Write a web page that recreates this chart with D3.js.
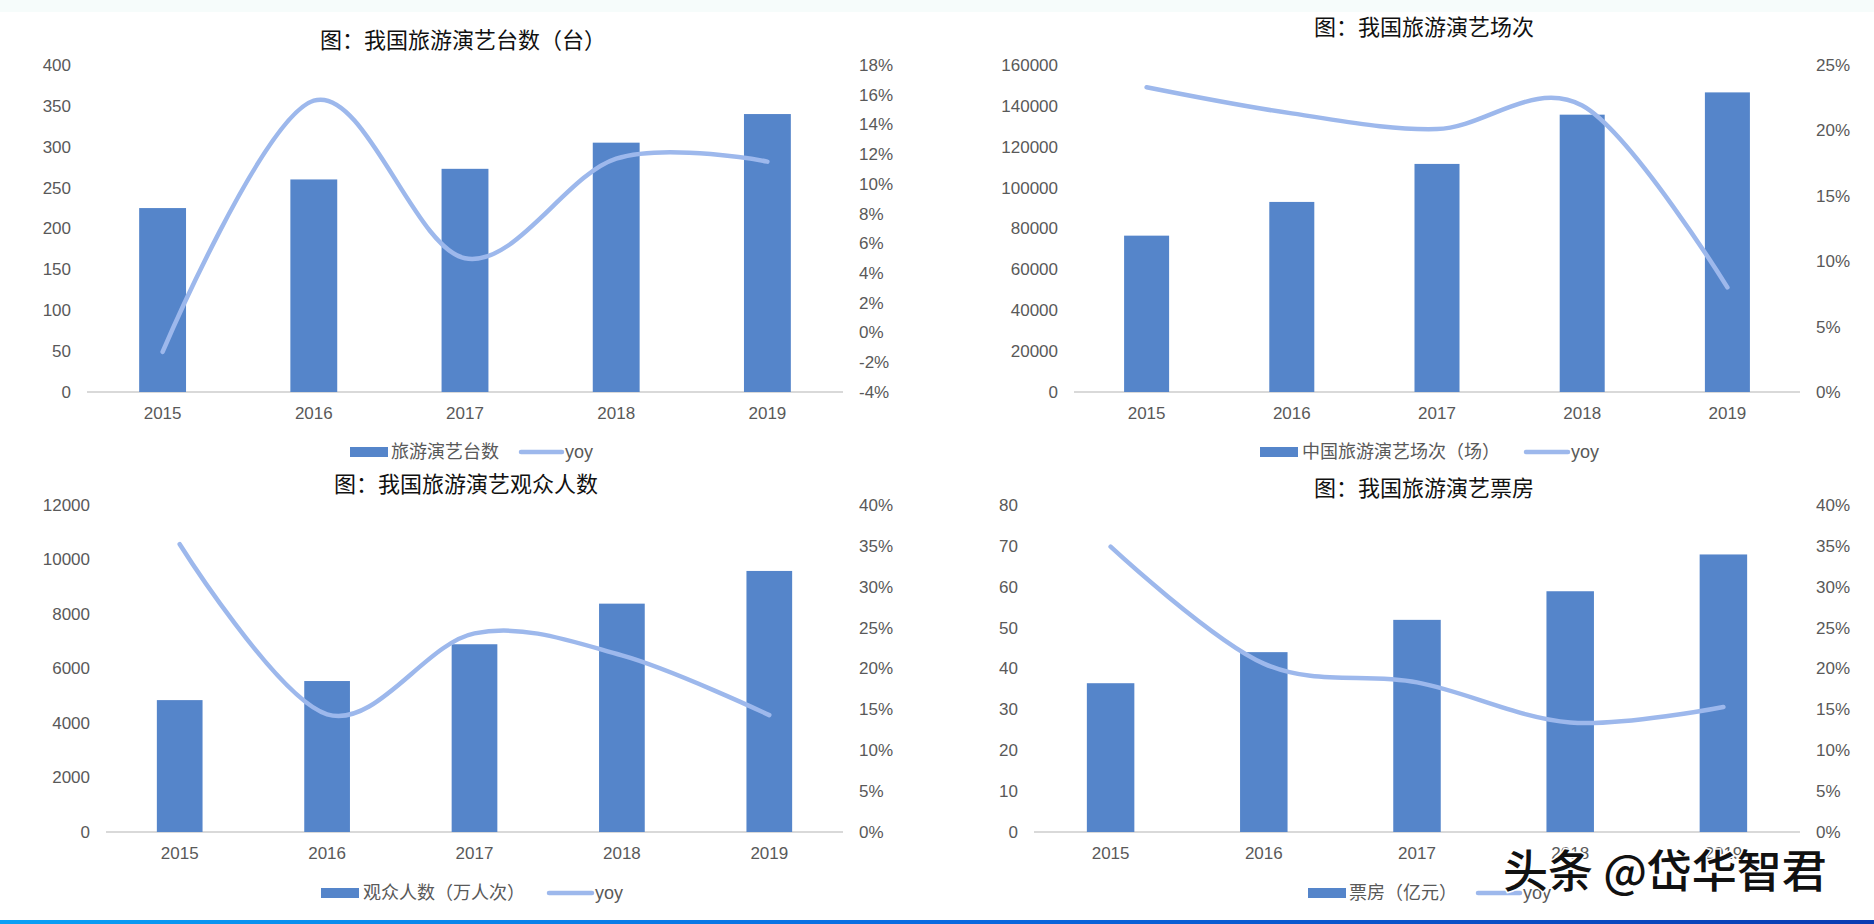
<!DOCTYPE html>
<html>
<head>
<meta charset="utf-8">
<script src="https://cdn.jsdelivr.net/npm/d3@7"></script>
<style>
  html, body { margin: 0; padding: 0; background: #ffffff; }
  svg { display: block; }
</style>
</head>
<body>
<svg id="chart" width="1874" height="924"></svg>
<script>
// ---------------- data ----------------
const years = ["2015", "2016", "2017", "2018", "2019"];

const units = [225, 260, 273, 305, 340];
const unitsYoy = [-1.3, 15.6, 5.0, 11.7, 11.5];
const unitsLeftTicks = [0, 50, 100, 150, 200, 250, 300, 350, 400];
const unitsRightTicks = [-4, -2, 0, 2, 4, 6, 8, 10, 12, 14, 16, 18];

const shows = [76500, 93000, 111600, 135700, 146600];
const showsYoy = [23.3, 21.3, 20.1, 21.9, 8.0];
const showsLeftTicks = [0, 20000, 40000, 60000, 80000, 100000, 120000, 140000, 160000];
const showsRightTicks = [0, 5, 10, 15, 20, 25];

const audience = [4840, 5540, 6890, 8380, 9580];
const audienceYoy = [35.2, 14.4, 24.3, 21.6, 14.3];
const audienceLeftTicks = [0, 2000, 4000, 6000, 8000, 10000, 12000];
const audienceRightTicks = [0, 5, 10, 15, 20, 25, 30, 35, 40];

const boxOffice = [36.4, 44.0, 51.9, 58.9, 67.9];
const boxOfficeYoy = [34.9, 20.6, 18.3, 13.4, 15.3];
const boxOfficeLeftTicks = [0, 10, 20, 30, 40, 50, 60, 70, 80];
const boxOfficeRightTicks = [0, 5, 10, 15, 20, 25, 30, 35, 40];

const titles = ["图：我国旅游演艺台数（台）", "图：我国旅游演艺场次", "图：我国旅游演艺观众人数", "图：我国旅游演艺票房"];
const barNames = ["旅游演艺台数", "中国旅游演艺场次（场）", "观众人数（万人次）", "票房（亿元）"];
const lineName = "yoy";
const watermark = "头条 @岱华智君";

// ---------------- style ----------------
const BAR = "#5585ca";
const LINE = "#9db8ec";
const TICK = "#595959";
const CJK = "'Noto Sans CJK SC', 'Noto Sans', sans-serif";
const LAT = "'Liberation Sans', Arial, sans-serif";

const svg = d3.select("#chart");

// faint top band & bottom gradient bar
svg.append("rect").attr("x", 0).attr("y", 0).attr("width", 1874).attr("height", 12).attr("fill", "#f6fcfb");
const defs = svg.append("defs");
const grad = defs.append("linearGradient").attr("id", "bottomGrad").attr("x1", "0%").attr("x2", "100%");
grad.append("stop").attr("offset", "0%").attr("stop-color", "#0aa0f5");
grad.append("stop").attr("offset", "50%").attr("stop-color", "#0a6ae0");
grad.append("stop").attr("offset", "100%").attr("stop-color", "#0a3cb2");
svg.append("rect").attr("x", 0).attr("y", 920).attr("width", 1874).attr("height", 4).attr("fill", "url(#bottomGrad)");

// ---------------- chart layouts ----------------
const charts = [
  { title: titles[0], tx: 463, ty: 40, x0: 87, x1: 843, y0: 65, y1: 392,
    bars: units, yoy: unitsYoy, lt: unitsLeftTicks, rt: unitsRightTicks,
    barName: barNames[0], leg: { y: 452, rect: 350, text: 391, line: 521, lineEnd: 562 } },
  { title: titles[1], tx: 1424, ty: 27, x0: 1074, x1: 1800, y0: 65, y1: 392,
    bars: shows, yoy: showsYoy, lt: showsLeftTicks, rt: showsRightTicks,
    barName: barNames[1], leg: { y: 452, rect: 1260, text: 1302, line: 1526, lineEnd: 1568 } },
  { title: titles[2], tx: 466, ty: 484, x0: 106, x1: 843, y0: 505, y1: 832,
    bars: audience, yoy: audienceYoy, lt: audienceLeftTicks, rt: audienceRightTicks,
    barName: barNames[2], leg: { y: 893, rect: 321, text: 363, line: 549, lineEnd: 592 } },
  { title: titles[3], tx: 1424, ty: 488, x0: 1034, x1: 1800, y0: 505, y1: 832,
    bars: boxOffice, yoy: boxOfficeYoy, lt: boxOfficeLeftTicks, rt: boxOfficeRightTicks,
    barName: barNames[3], leg: { y: 893, rect: 1308, text: 1349, line: 1478, lineEnd: 1520 } }
];

function styleAxis(g) {
  g.select(".domain").remove();
  g.selectAll("text")
    .attr("fill", TICK)
    .style("font-family", LAT)
    .style("font-size", "17px");
}

charts.forEach(c => {
  const g = svg.append("g");
  const x = d3.scaleBand().domain(years).range([c.x0, c.x1]).padding(0);
  const yL = d3.scaleLinear().domain([c.lt[0], c.lt[c.lt.length - 1]]).range([c.y1, c.y0]);
  const yR = d3.scaleLinear().domain([c.rt[0], c.rt[c.rt.length - 1]]).range([c.y1, c.y0]);
  const barW = x.bandwidth() * 0.31;
  const cx = d => x(d) + x.bandwidth() / 2;

  // title
  g.append("text").attr("x", c.tx).attr("y", c.ty).attr("dy", "0.35em")
    .attr("text-anchor", "middle").attr("fill", "#111")
    .style("font-family", CJK).style("font-size", "22px")
    .text(c.title);

  // axes
  g.append("g").attr("transform", `translate(${c.x0},0)`)
    .call(d3.axisLeft(yL).tickValues(c.lt).tickSize(0).tickPadding(16).tickFormat(d => String(d)))
    .call(styleAxis);
  g.append("g").attr("transform", `translate(${c.x1},0)`)
    .call(d3.axisRight(yR).tickValues(c.rt).tickSize(0).tickPadding(16).tickFormat(d => d + "%"))
    .call(styleAxis);
  g.append("g").attr("transform", `translate(0,${c.y1})`)
    .call(d3.axisBottom(x).tickSize(0).tickPadding(15))
    .call(styleAxis);

  // baseline
  g.append("line").attr("x1", c.x0).attr("x2", c.x1)
    .attr("y1", yL(0)).attr("y2", yL(0))
    .attr("stroke", "#d9d9d9").attr("stroke-width", 2);

  // bars
  g.selectAll("rect.bar").data(c.bars).join("rect").attr("class", "bar")
    .attr("x", (d, i) => cx(years[i]) - barW / 2)
    .attr("y", d => yL(d))
    .attr("width", barW)
    .attr("height", d => yL(0) - yL(d))
    .attr("fill", BAR);

  // yoy line
  const line = d3.line()
    .x((d, i) => cx(years[i]))
    .y(d => yR(d))
    .curve(d3.curveCardinal.tension(0));
  g.append("path").datum(c.yoy)
    .attr("d", line)
    .attr("fill", "none")
    .attr("stroke", LINE)
    .attr("stroke-width", 4.5)
    .attr("stroke-linecap", "round")
    .attr("stroke-linejoin", "round");

  // legend
  const L = c.leg;
  g.append("rect").attr("x", L.rect).attr("y", L.y - 5).attr("width", 38).attr("height", 10).attr("fill", BAR);
  g.append("text").attr("x", L.text).attr("y", L.y).attr("dy", "0.36em")
    .attr("fill", TICK).style("font-family", CJK).style("font-size", "18px")
    .text(c.barName);
  g.append("line").attr("x1", L.line).attr("x2", L.lineEnd).attr("y1", L.y).attr("y2", L.y)
    .attr("stroke", LINE).attr("stroke-width", 4.5).attr("stroke-linecap", "round");
  g.append("text").attr("x", L.lineEnd + 3).attr("y", L.y).attr("dy", "0.34em")
    .attr("fill", TICK).style("font-family", LAT).style("font-size", "18px")
    .text(lineName);
});

// watermark
svg.append("text").attr("x", 1503).attr("y", 888)
  .attr("fill", "#111").attr("stroke", "#fff").attr("stroke-width", 3)
  .attr("paint-order", "stroke")
  .style("font-family", CJK).style("font-size", "45px").style("font-weight", 500)
  .text(watermark);
</script>
</body>
</html>
